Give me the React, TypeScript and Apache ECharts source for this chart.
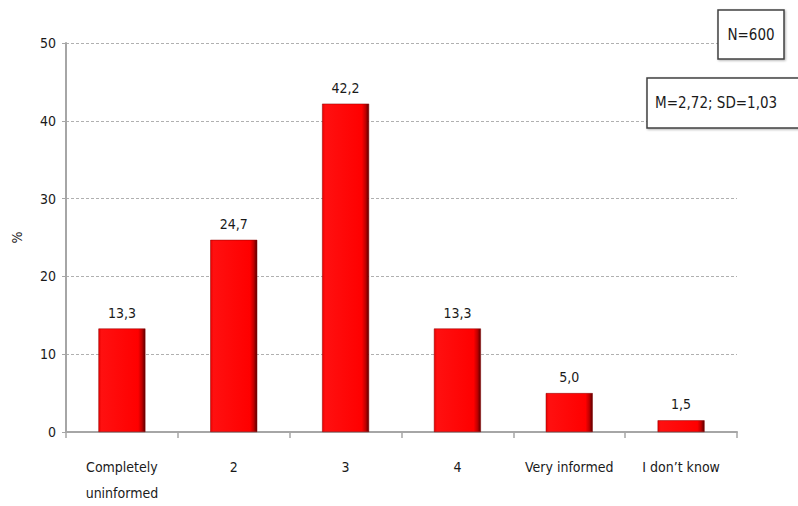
import React, { useEffect, useRef } from "react";
import * as echarts from "echarts";

const categories = ["Completely\nuninformed", "2", "3", "4", "Very informed", "I don\u2019t know"];
const values = [13.3, 24.7, 42.2, 13.3, 5.0, 1.5];
const yTicks = { min: 0, max: 50, interval: 10 };
const nText = "N=600";
const statText = "M=2,72; SD=1,03";

const FONT = "'Liberation Sans Narrow', 'DejaVu Sans Condensed', 'Open Sans', sans-serif";

export default function App() {
  const ref = useRef<HTMLDivElement>(null);
  useEffect(() => {
    document.body.style.margin = "0";
    const chart = echarts.init(ref.current!, undefined, { renderer: "svg" });
    chart.setOption({
      animation: false,
      backgroundColor: "#ffffff",
      textStyle: { fontFamily: FONT },
      grid: { left: 66, right: 61, top: 43, bottom: 74, containLabel: false, outerBoundsMode: "none" },
      xAxis: {
        type: "category",
        data: categories,
        axisLine: { lineStyle: { color: "#a6a6a6", width: 2 } },
        axisTick: { show: true, interval: 0, alignWithLabel: false, length: 6, lineStyle: { color: "#a6a6a6", width: 1.5 } },
        axisLabel: { interval: 0, color: "#1a1a1a", fontSize: 14, margin: 22, lineHeight: 26, fontFamily: FONT },
      },
      yAxis: {
        type: "value",
        min: yTicks.min,
        max: yTicks.max,
        interval: yTicks.interval,
        name: "%",
        nameLocation: "middle",
        nameGap: 42,
        nameRotate: 90,
        nameTextStyle: { color: "#1a1a1a", fontSize: 14, fontFamily: FONT },
        axisLine: { show: true, lineStyle: { color: "#a6a6a6", width: 2 } },
        axisTick: { show: true, length: 4, lineStyle: { color: "#a6a6a6" } },
        axisLabel: { color: "#1a1a1a", fontSize: 14, margin: 10, fontFamily: FONT },
        splitLine: { show: true, lineStyle: { color: "#b0b0b0", type: [3, 2], width: 1 } },
      },
      series: [
        {
          type: "bar",
          data: values,
          barWidth: "42%",
          itemStyle: {
            color: new echarts.graphic.LinearGradient(0, 0, 1, 0, [
              { offset: 0, color: "#e80000" },
              { offset: 0.06, color: "#ff1010" },
              { offset: 0.85, color: "#ff0000" },
              { offset: 0.93, color: "#c00000" },
              { offset: 1, color: "#5a0000" },
            ]),
            borderColor: "#8a0000",
            borderWidth: 0.5,
          },
          label: {
            show: true,
            position: "top",
            distance: 9,
            color: "#1a1a1a",
            fontSize: 14,
            fontFamily: FONT,
            formatter: (p: any) => Number(p.value).toFixed(1).replace(".", ","),
          },
        },
      ],
      graphic: [
        {
          type: "rect",
          shape: { x: 718, y: 10, width: 66, height: 49 },
          style: { fill: "#ffffff", stroke: "#404040", lineWidth: 1.5, shadowBlur: 2, shadowOffsetX: 1, shadowOffsetY: 1, shadowColor: "rgba(0,0,0,0.3)" },
          z: 100,
        },
        {
          type: "text",
          x: 751,
          y: 35,
          style: { text: nText, fill: "#1a1a1a", fontSize: 15, fontFamily: FONT, align: "center", verticalAlign: "middle" },
          z: 101,
        },
        {
          type: "rect",
          shape: { x: 647, y: 78, width: 170, height: 50 },
          style: { fill: "#ffffff", stroke: "#404040", lineWidth: 1.5, shadowBlur: 2, shadowOffsetX: 1, shadowOffsetY: 1, shadowColor: "rgba(0,0,0,0.3)" },
          z: 100,
        },
        {
          type: "text",
          x: 655,
          y: 103,
          style: { text: statText, fill: "#1a1a1a", fontSize: 15, fontFamily: FONT, align: "left", verticalAlign: "middle" },
          z: 101,
        },
      ],
    });
    return () => chart.dispose();
  }, []);
  return <div ref={ref} style={{ width: 798, height: 506 }} />;
}
